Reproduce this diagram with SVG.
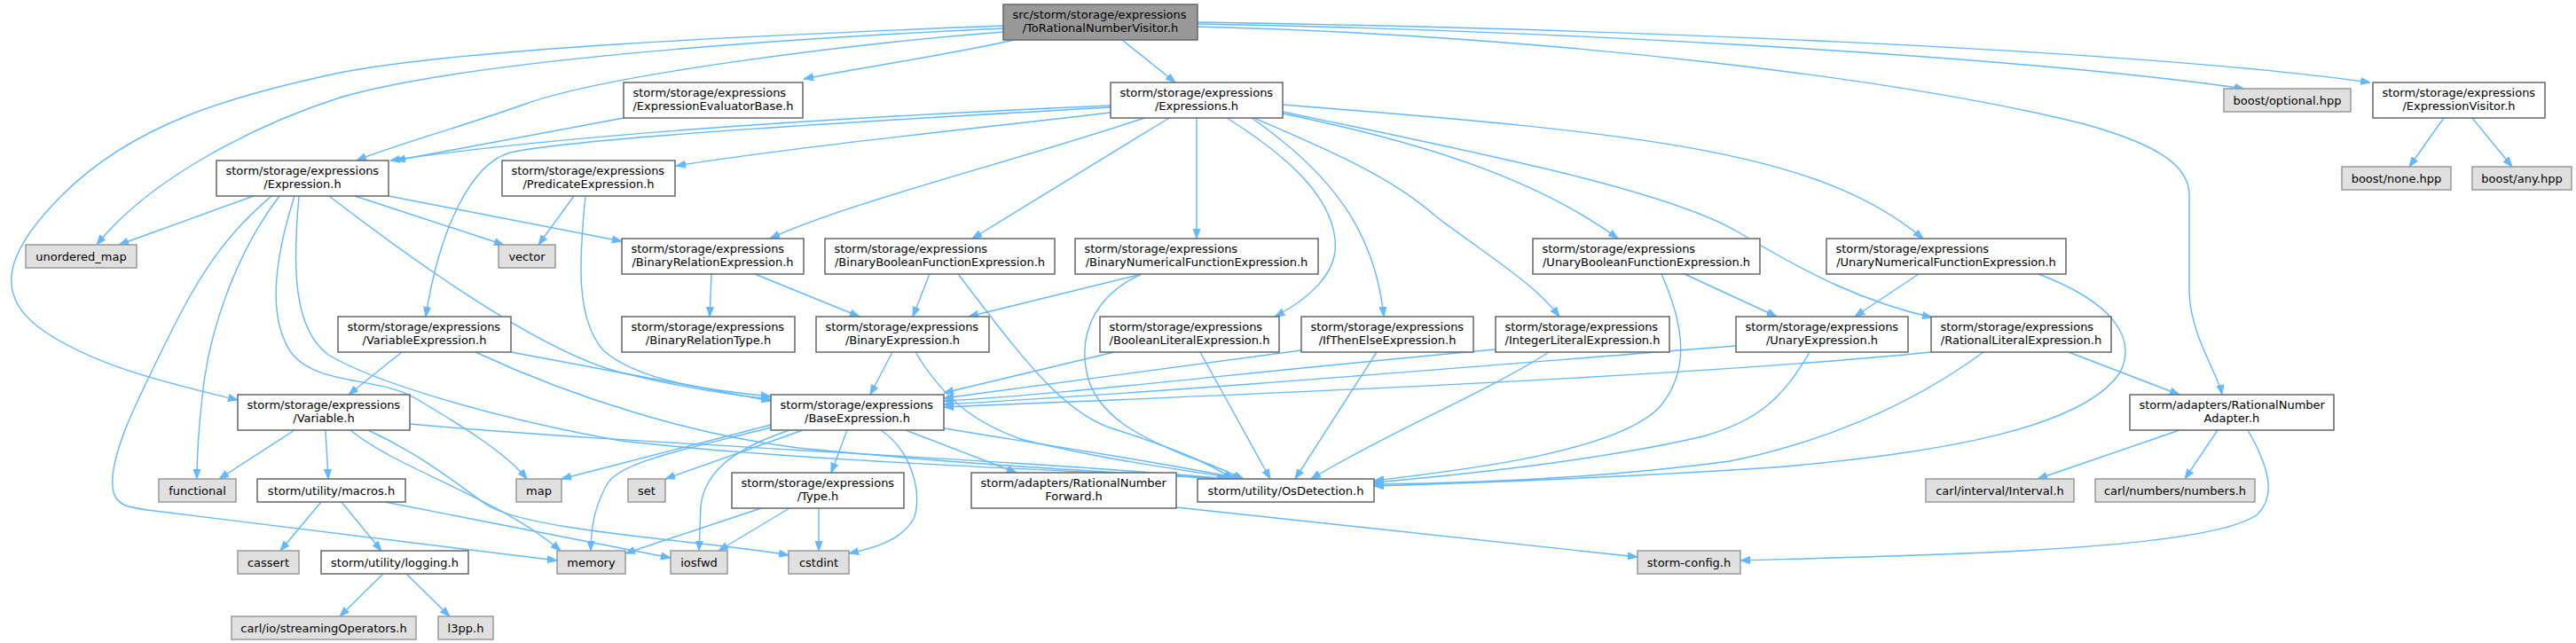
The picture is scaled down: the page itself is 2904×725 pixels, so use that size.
<svg xmlns="http://www.w3.org/2000/svg" width="2904" height="725" viewBox="0 0 2904 725">
<defs>
<marker id="arr" markerWidth="11" markerHeight="9" refX="11" refY="4.5" orient="auto" markerUnits="userSpaceOnUse"><path d="M0,0.5 L11,4.5 L0,8.5 z" fill="#63b8ff" stroke="#63b8ff" stroke-width="1"/></marker>
<style>
.e{fill:none;stroke:#63b8ff;stroke-width:1.4;marker-end:url(#arr)}
rect.w{fill:#ffffff;stroke:#666666;stroke-width:1.5}
rect.x{fill:#e0e0e0;stroke:#999999;stroke-width:1.5}
rect.r{fill:#999999;stroke:#666666;stroke-width:1.5}
text{font-family:"DejaVu Sans","Liberation Sans",sans-serif;font-size:13px;fill:#000000}
text.c{text-anchor:middle}
</style>
</defs>
<rect width="2904" height="725" fill="#ffffff"/>
<g id="edges">
<path class="e" d="M1265,45 L1325,93"/>
<path class="e" d="M1143,45 C1080,60 960,78 906,89"/>
<path class="e" d="M1131,36 C950,50 680,85 590,118 C520,143 440,165 402,181"/>
<path class="e" d="M1131,32 C850,45 520,70 383,110 C290,140 170,200 109,276"/>
<path class="e" d="M1131,29 C850,40 520,55 383,82 C260,108 150,140 70,220 C10,280 -10,330 45,370 C100,410 180,430 268,451"/>
<path class="e" d="M1350,27 C1700,33 2250,60 2530,100"/>
<path class="e" d="M1350,25 C1800,32 2400,55 2672,93"/>
<path class="e" d="M1350,30 C1750,40 2150,90 2350,140 C2440,165 2468,190 2468,220 L2468,330 C2470,380 2500,420 2505,445"/>
<path class="e" d="M703,133 L446,181"/>
<path class="e" d="M1252,119 C1000,130 650,150 440,181"/>
<path class="e" d="M1252,121 C1000,135 650,155 575,172 C530,185 495,260 480,357"/>
<path class="e" d="M1252,127 C1100,145 900,165 762,187"/>
<path class="e" d="M1290,133 C1150,180 950,230 868,269"/>
<path class="e" d="M1318,133 L1096,269"/>
<path class="e" d="M1349,133 L1349,269"/>
<path class="e" d="M1383,133 C1450,175 1500,220 1505,270 C1510,310 1470,340 1437,357"/>
<path class="e" d="M1411,133 C1500,195 1550,260 1560,357"/>
<path class="e" d="M1414,133 C1500,170 1570,200 1620,245 C1680,290 1730,320 1758,357"/>
<path class="e" d="M1446,128 C1600,160 1730,200 1824,269"/>
<path class="e" d="M1446,126 C1680,175 1880,215 1960,262 C2040,310 2100,340 2178,358"/>
<path class="e" d="M1446,118 C1850,150 2050,170 2168,269"/>
<path class="e" d="M286,221 L134,276"/>
<path class="e" d="M306,221 C260,260 230,300 195,370 C150,460 120,520 128,555 C132,570 145,572 166,575 L628,632"/>
<path class="e" d="M315,221 C270,280 240,360 230,430 C224,480 222,510 222,540"/>
<path class="e" d="M332,221 C310,290 300,360 330,400 C360,435 430,425 470,450 C520,480 570,510 594,540"/>
<path class="e" d="M337,221 C330,300 330,370 370,400 C420,430 550,470 700,497 C900,520 1200,530 1383,540"/>
<path class="e" d="M371,221 C500,320 620,400 700,420 C760,435 820,445 869,450"/>
<path class="e" d="M400,221 L568,276"/>
<path class="e" d="M438,221 L701,272"/>
<path class="e" d="M647,221 L607,276"/>
<path class="e" d="M660,221 C652,300 650,360 680,395 C720,430 800,440 869,447"/>
<path class="e" d="M453,397 L393,445"/>
<path class="e" d="M576,397 L869,452"/>
<path class="e" d="M536,397 C650,450 780,490 900,505 C1100,525 1250,532 1385,540"/>
<path class="e" d="M332,485 L247,540"/>
<path class="e" d="M367,485 L370,540"/>
<path class="e" d="M395,485 C450,530 560,560 632,621"/>
<path class="e" d="M415,485 C480,515 520,550 550,570 C600,600 800,610 889,626"/>
<path class="e" d="M462,478 C700,500 1100,515 1386,540"/>
<path class="e" d="M362,566 L316,621"/>
<path class="e" d="M385,566 L430,621"/>
<path class="e" d="M434,566 L756,629"/>
<path class="e" d="M432,647 L383,695"/>
<path class="e" d="M458,647 L507,695"/>
<path class="e" d="M869,479 L633,540"/>
<path class="e" d="M869,482 C780,505 700,520 685,545 C670,570 666,600 666,621"/>
<path class="e" d="M890,485 C830,505 795,530 790,570 L788,621"/>
<path class="e" d="M905,485 L750,540"/>
<path class="e" d="M955,485 L937,533"/>
<path class="e" d="M993,485 C1030,510 1040,560 1030,585 C1015,610 985,618 957,624"/>
<path class="e" d="M1021,485 L1146,533"/>
<path class="e" d="M1064,483 C1200,505 1330,525 1400,540"/>
<path class="e" d="M858,573 L705,624"/>
<path class="e" d="M890,573 L810,621"/>
<path class="e" d="M923,573 L923,621"/>
<path class="e" d="M1326,572 L1846,628"/>
<path class="e" d="M2457,485 L2297,540"/>
<path class="e" d="M2500,485 L2463,540"/>
<path class="e" d="M2534,485 C2560,530 2565,560 2545,580 C2490,620 2200,625 1962,632"/>
<path class="e" d="M802,309 L800,357"/>
<path class="e" d="M851,309 L969,357"/>
<path class="e" d="M1048,309 L1029,357"/>
<path class="e" d="M1080,309 C1150,400 1200,470 1260,485 C1320,505 1360,520 1390,540"/>
<path class="e" d="M1287,309 L1092,357"/>
<path class="e" d="M1287,309 C1240,330 1215,370 1225,420 C1235,470 1290,495 1340,515 C1370,525 1390,535 1402,540"/>
<path class="e" d="M1006,397 L981,445"/>
<path class="e" d="M1032,397 C1070,460 1110,480 1150,495 C1250,520 1340,530 1395,540"/>
<path class="e" d="M1256,397 L1064,443"/>
<path class="e" d="M1353,397 L1432,540"/>
<path class="e" d="M1467,395 L1064,449"/>
<path class="e" d="M1552,397 L1460,540"/>
<path class="e" d="M1686,394 C1400,420 1200,445 1064,452"/>
<path class="e" d="M1746,397 C1680,440 1560,490 1478,540"/>
<path class="e" d="M1899,309 L2003,357"/>
<path class="e" d="M1873,309 C1900,370 1905,420 1870,460 C1820,510 1650,530 1549,542"/>
<path class="e" d="M2163,309 L2091,357"/>
<path class="e" d="M2298,309 C2380,340 2410,380 2390,420 C2350,480 2200,510 2000,527 C1800,540 1650,545 1549,548"/>
<path class="e" d="M1957,390 C1700,410 1350,440 1064,456"/>
<path class="e" d="M2040,397 C2010,450 1980,475 1920,492 C1800,520 1650,535 1549,544"/>
<path class="e" d="M2177,397 C1900,425 1400,445 1064,459"/>
<path class="e" d="M2236,397 C2150,460 2050,500 1950,520 C1800,540 1650,545 1549,546"/>
<path class="e" d="M2332,397 L2457,445"/>
<path class="e" d="M2755,133 L2716,188"/>
<path class="e" d="M2787,133 L2832,188"/>
</g>
<g id="n_root"><rect class="r" x="1131" y="5" width="219" height="40"/><text x="1141.5" y="21">src/storm/storage/expressions</text><text class="c" x="1240.5" y="36">/ToRationalNumberVisitor.h</text></g>
<g id="n_evalbase"><rect class="w" x="703" y="93" width="202" height="40"/><text x="713.5" y="109">storm/storage/expressions</text><text class="c" x="804" y="124">/ExpressionEvaluatorBase.h</text></g>
<g id="n_expressions"><rect class="w" x="1252" y="93" width="194" height="40"/><text x="1262.5" y="109">storm/storage/expressions</text><text class="c" x="1349" y="124">/Expressions.h</text></g>
<g id="n_optional"><rect class="x" x="2507" y="100" width="143" height="26"/><text class="c" x="2578.5" y="117.5">boost/optional.hpp</text></g>
<g id="n_visitor"><rect class="w" x="2675" y="93" width="194" height="40"/><text x="2685.5" y="109">storm/storage/expressions</text><text class="c" x="2772" y="124">/ExpressionVisitor.h</text></g>
<g id="n_expression"><rect class="w" x="244" y="181" width="194" height="40"/><text x="254.5" y="197">storm/storage/expressions</text><text class="c" x="341" y="212">/Expression.h</text></g>
<g id="n_predicate"><rect class="w" x="566" y="181" width="195" height="40"/><text x="576.5" y="197">storm/storage/expressions</text><text class="c" x="663.5" y="212">/PredicateExpression.h</text></g>
<g id="n_none"><rect class="x" x="2640" y="188" width="123" height="26"/><text class="c" x="2701.5" y="205.5">boost/none.hpp</text></g>
<g id="n_any"><rect class="x" x="2787" y="188" width="112" height="26"/><text class="c" x="2843" y="205.5">boost/any.hpp</text></g>
<g id="n_umap"><rect class="x" x="29" y="276" width="125" height="26"/><text class="c" x="91.5" y="293.5">unordered_map</text></g>
<g id="n_vector"><rect class="x" x="562" y="276" width="64" height="26"/><text class="c" x="594" y="293.5">vector</text></g>
<g id="n_binrel"><rect class="w" x="701" y="269" width="205" height="40"/><text x="711.5" y="285">storm/storage/expressions</text><text class="c" x="803.5" y="300">/BinaryRelationExpression.h</text></g>
<g id="n_binbool"><rect class="w" x="930" y="269" width="259" height="40"/><text x="940.5" y="285">storm/storage/expressions</text><text class="c" x="1059.5" y="300">/BinaryBooleanFunctionExpression.h</text></g>
<g id="n_binnum"><rect class="w" x="1212" y="269" width="274" height="40"/><text x="1222.5" y="285">storm/storage/expressions</text><text class="c" x="1349" y="300">/BinaryNumericalFunctionExpression.h</text></g>
<g id="n_unbool"><rect class="w" x="1728" y="269" width="256" height="40"/><text x="1738.5" y="285">storm/storage/expressions</text><text class="c" x="1856" y="300">/UnaryBooleanFunctionExpression.h</text></g>
<g id="n_unnum"><rect class="w" x="2059" y="269" width="270" height="40"/><text x="2069.5" y="285">storm/storage/expressions</text><text class="c" x="2194" y="300">/UnaryNumericalFunctionExpression.h</text></g>
<g id="n_varexpr"><rect class="w" x="381" y="357" width="195" height="40"/><text x="391.5" y="373">storm/storage/expressions</text><text class="c" x="478.5" y="388">/VariableExpression.h</text></g>
<g id="n_reltype"><rect class="w" x="701" y="357" width="195" height="40"/><text x="711.5" y="373">storm/storage/expressions</text><text class="c" x="798.5" y="388">/BinaryRelationType.h</text></g>
<g id="n_binexpr"><rect class="w" x="920" y="357" width="195" height="40"/><text x="930.5" y="373">storm/storage/expressions</text><text class="c" x="1017.5" y="388">/BinaryExpression.h</text></g>
<g id="n_boollit"><rect class="w" x="1240" y="357" width="202" height="40"/><text x="1250.5" y="373">storm/storage/expressions</text><text class="c" x="1341" y="388">/BooleanLiteralExpression.h</text></g>
<g id="n_ite"><rect class="w" x="1467" y="357" width="194" height="40"/><text x="1477.5" y="373">storm/storage/expressions</text><text class="c" x="1564" y="388">/IfThenElseExpression.h</text></g>
<g id="n_intlit"><rect class="w" x="1686" y="357" width="196" height="40"/><text x="1696.5" y="373">storm/storage/expressions</text><text class="c" x="1784" y="388">/IntegerLiteralExpression.h</text></g>
<g id="n_unexpr"><rect class="w" x="1957" y="357" width="194" height="40"/><text x="1967.5" y="373">storm/storage/expressions</text><text class="c" x="2054" y="388">/UnaryExpression.h</text></g>
<g id="n_ratlit"><rect class="w" x="2177" y="357" width="203" height="40"/><text x="2187.5" y="373">storm/storage/expressions</text><text class="c" x="2278.5" y="388">/RationalLiteralExpression.h</text></g>
<g id="n_variable"><rect class="w" x="268" y="445" width="194" height="40"/><text x="278.5" y="461">storm/storage/expressions</text><text class="c" x="365" y="476">/Variable.h</text></g>
<g id="n_base"><rect class="w" x="869" y="445" width="195" height="40"/><text x="879.5" y="461">storm/storage/expressions</text><text class="c" x="966.5" y="476">/BaseExpression.h</text></g>
<g id="n_rnadapter"><rect class="w" x="2401" y="445" width="230" height="40"/><text x="2411.5" y="461">storm/adapters/RationalNumber</text><text class="c" x="2516" y="476">Adapter.h</text></g>
<g id="n_functional"><rect class="x" x="179" y="540" width="87" height="26"/><text class="c" x="222.5" y="557.5">functional</text></g>
<g id="n_macros"><rect class="w" x="290" y="540" width="167" height="26"/><text class="c" x="373.5" y="557.5">storm/utility/macros.h</text></g>
<g id="n_map"><rect class="x" x="582" y="540" width="51" height="26"/><text class="c" x="607.5" y="557.5">map</text></g>
<g id="n_set"><rect class="x" x="708" y="540" width="42" height="26"/><text class="c" x="729" y="557.5">set</text></g>
<g id="n_type"><rect class="w" x="825" y="533" width="194" height="40"/><text x="835.5" y="549">storm/storage/expressions</text><text class="c" x="922" y="564">/Type.h</text></g>
<g id="n_rnforward"><rect class="w" x="1095" y="533" width="231" height="40"/><text x="1105.5" y="549">storm/adapters/RationalNumber</text><text class="c" x="1210.5" y="564">Forward.h</text></g>
<g id="n_osdet"><rect class="w" x="1350" y="540" width="199" height="26"/><text class="c" x="1449.5" y="557.5">storm/utility/OsDetection.h</text></g>
<g id="n_interval"><rect class="x" x="2171" y="540" width="167" height="26"/><text class="c" x="2254.5" y="557.5">carl/interval/Interval.h</text></g>
<g id="n_numbers"><rect class="x" x="2362" y="540" width="180" height="26"/><text class="c" x="2452" y="557.5">carl/numbers/numbers.h</text></g>
<g id="n_cassert"><rect class="x" x="268" y="621" width="69" height="26"/><text class="c" x="302.5" y="638.5">cassert</text></g>
<g id="n_logging"><rect class="w" x="362" y="621" width="166" height="26"/><text class="c" x="445" y="638.5">storm/utility/logging.h</text></g>
<g id="n_memory"><rect class="x" x="628" y="621" width="77" height="26"/><text class="c" x="666.5" y="638.5">memory</text></g>
<g id="n_iosfwd"><rect class="x" x="756" y="621" width="64" height="26"/><text class="c" x="788" y="638.5">iosfwd</text></g>
<g id="n_cstdint"><rect class="x" x="889" y="621" width="68" height="26"/><text class="c" x="923" y="638.5">cstdint</text></g>
<g id="n_config"><rect class="x" x="1846" y="621" width="116" height="26"/><text class="c" x="1904" y="638.5">storm-config.h</text></g>
<g id="n_streamops"><rect class="x" x="261" y="695" width="208" height="26"/><text class="c" x="365" y="712.5">carl/io/streamingOperators.h</text></g>
<g id="n_l3pp"><rect class="x" x="494" y="695" width="62" height="26"/><text class="c" x="525" y="712.5">l3pp.h</text></g>
</svg>
